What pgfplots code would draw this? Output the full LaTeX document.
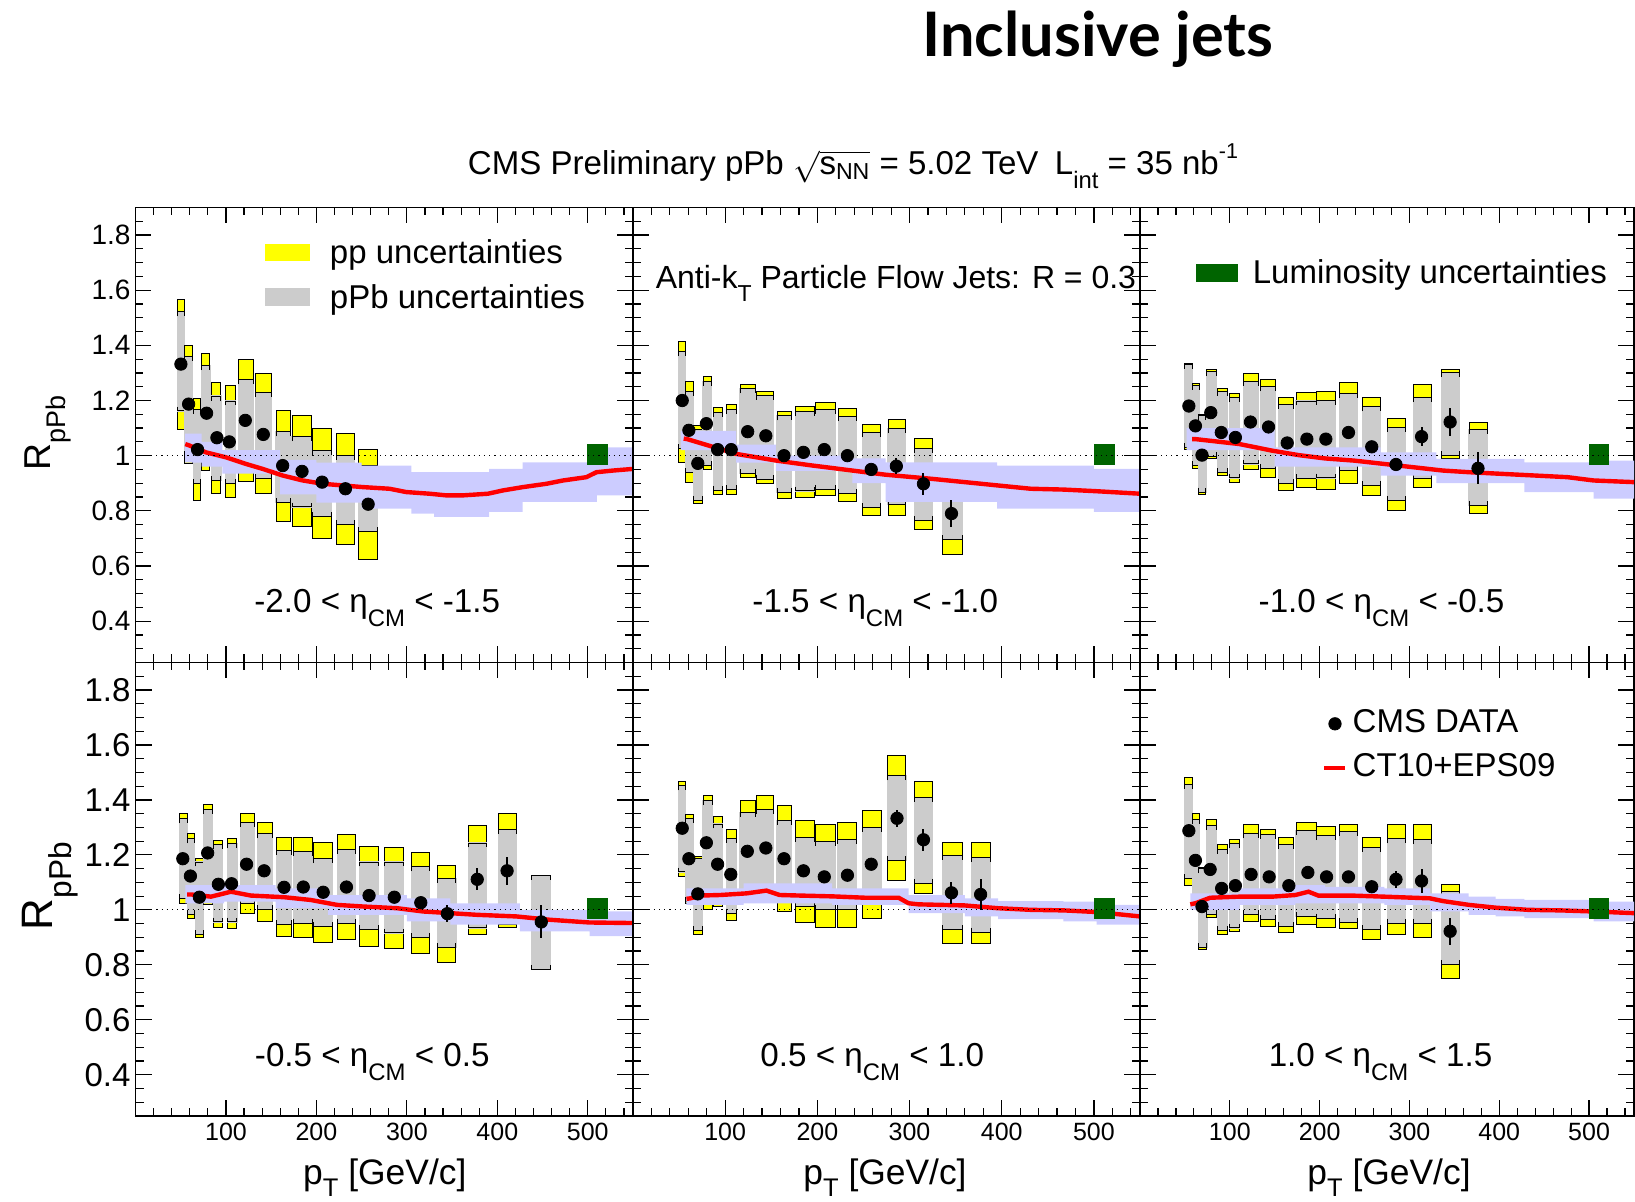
\documentclass[border=0pt]{standalone}
\usepackage{pgfplots}
\pgfplotsset{compat=1.18}
\usepackage{pgfplotstable}
\usepackage{graphicx}
\usepackage{fontspec}
\setmainfont{Liberation Sans}
\newfontfamily\titlefont{Lato}

\definecolor{ppyellow}{RGB}{255,255,0}
\definecolor{pPbgray}{RGB}{204,204,204}
\definecolor{bandblue}{RGB}{204,204,255}
\definecolor{lumigreen}{RGB}{0,100,0}

\newcommand\fs[1]{\fontsize{#1}{#1}\selectfont}
\newcommand\rsub[1]{\raisebox{-0.42em}{\scalebox{0.72}{#1}}}
\newcommand\rsubb[1]{\raisebox{-0.32em}{\scalebox{0.72}{#1}}}
\newcommand\rsup[1]{\raisebox{0.5em}{\scalebox{0.65}{#1}}}

% x y ey xlo xhi glo ghi plo phi
\pgfplotstableread{
x y ey xlo xhi glo ghi plo phi
50.2 1.332 0.01 46.5 54.6 1.162 1.521 1.096 1.566
58.7 1.187 0.01 54.6 63.1 1.000 1.359 0.970 1.401
68.6 1.022 0.01 64.2 72.3 0.898 1.168 0.836 1.207
78.6 1.154 0.01 73.4 82.3 0.982 1.326 0.946 1.369
90.0 1.065 0.01 84.5 94.5 0.910 1.216 0.862 1.266
103.7 1.050 0.01 99.3 110.3 0.898 1.198 0.850 1.254
121.4 1.128 0.01 114.0 130.3 0.940 1.275 0.907 1.347
141.3 1.077 0.01 133.2 149.8 0.916 1.230 0.862 1.297
162.7 0.964 0.01 155.4 171.2 0.830 1.086 0.760 1.165
184.1 0.943 0.01 173.1 194.5 0.814 1.069 0.743 1.144
206.3 0.904 0.01 195.9 216.2 0.778 1.018 0.700 1.098
232.1 0.880 0.01 221.8 242.1 0.749 1.002 0.677 1.080
257.2 0.824 0.015 246.9 267.9 0.725 0.964 0.623 1.024
}\tabA
\pgfplotstableread{
x y ey xlo xhi glo ghi plo phi
53.4 1.200 0.01 49.1 57.0 1.026 1.377 0.976 1.413
60.6 1.092 0.01 57.0 65.2 0.940 1.234 0.904 1.269
70.3 0.972 0.01 66.0 74.9 0.838 1.096 0.826 1.108
79.6 1.116 0.01 76.0 84.9 0.964 1.269 0.950 1.287
91.8 1.022 0.01 87.5 97.5 0.874 1.156 0.859 1.174
106.5 1.022 0.01 101.1 112.5 0.877 1.168 0.859 1.186
124.4 1.087 0.01 116.1 133.3 0.934 1.242 0.919 1.257
144.1 1.072 0.01 134.1 152.0 0.914 1.218 0.898 1.234
163.8 1.000 0.01 156.3 171.7 0.866 1.144 0.844 1.159
184.9 1.012 0.01 176.0 196.8 0.872 1.159 0.848 1.177
207.5 1.022 0.01 197.8 219.4 0.878 1.168 0.856 1.192
232.6 1.000 0.01 222.9 242.3 0.862 1.141 0.835 1.170
258.4 0.950 0.015 249.5 268.5 0.811 1.084 0.784 1.114
285.7 0.962 0.03 276.7 295.3 0.823 1.098 0.784 1.132
315.1 0.898 0.04 305.4 324.7 0.766 1.026 0.734 1.062
345.5 0.790 0.05 335.5 357.0 0.695 0.880 0.643 0.880
}\tabB
\pgfplotstableread{
x y ey xlo xhi glo ghi plo phi
54.4 1.180 0.01 49.6 58.0 1.030 1.332 1.022 1.335
61.7 1.108 0.01 58.0 66.4 0.964 1.255 0.955 1.260
69.0 1.002 0.01 65.3 73.4 0.868 1.144 0.859 1.150
78.8 1.156 0.01 74.5 84.7 0.998 1.305 0.988 1.314
90.5 1.084 0.01 86.1 97.1 0.938 1.234 0.928 1.244
106.2 1.066 0.01 100.0 110.9 0.919 1.210 0.904 1.224
123.0 1.122 0.01 115.7 131.8 0.970 1.269 0.950 1.297
143.1 1.104 0.01 134.7 151.1 0.954 1.249 0.922 1.275
163.9 1.046 0.01 154.0 171.2 0.898 1.186 0.872 1.210
185.8 1.060 0.01 173.7 196.0 0.916 1.198 0.886 1.230
206.9 1.060 0.01 196.7 217.5 0.919 1.200 0.878 1.234
232.1 1.084 0.015 222.3 242.3 0.946 1.225 0.898 1.266
258.0 1.032 0.015 247.8 267.9 0.892 1.177 0.856 1.210
285.0 0.968 0.02 275.2 295.3 0.838 1.102 0.802 1.134
313.5 1.069 0.035 304.4 324.5 0.916 1.210 0.886 1.257
345.3 1.122 0.05 335.4 355.5 1.000 1.302 0.990 1.314
376.3 0.954 0.058 366.4 386.5 0.820 1.096 0.790 1.122
}\tabC
\pgfplotstableread{
x y ey xlo xhi glo ghi plo phi
52.3 1.186 0.01 48.6 57.1 1.040 1.331 1.024 1.352
60.7 1.123 0.01 57.1 65.1 0.982 1.258 0.968 1.276
70.6 1.046 0.01 66.2 75.4 0.910 1.174 0.898 1.186
79.8 1.207 0.01 75.4 85.3 1.030 1.364 1.020 1.385
91.6 1.093 0.01 86.4 96.3 0.956 1.237 0.936 1.252
106.2 1.095 0.01 101.8 112.1 0.956 1.240 0.931 1.261
122.8 1.166 0.01 115.8 131.9 1.024 1.318 0.988 1.352
142.2 1.142 0.01 134.9 151.4 1.000 1.276 0.958 1.318
164.2 1.082 0.01 156.1 172.7 0.946 1.216 0.904 1.262
185.5 1.083 0.01 174.5 195.8 0.952 1.213 0.898 1.264
207.5 1.064 0.01 197.2 217.4 0.940 1.186 0.880 1.246
233.2 1.083 0.01 222.9 243.1 0.952 1.220 0.892 1.274
258.2 1.052 0.015 247.9 268.8 0.928 1.174 0.868 1.232
286.1 1.046 0.02 275.4 296.3 0.916 1.174 0.859 1.227
315.4 1.026 0.02 304.8 325.0 0.898 1.156 0.840 1.210
344.8 0.986 0.03 333.8 354.3 0.864 1.114 0.808 1.162
377.8 1.111 0.04 367.9 388.1 0.934 1.243 0.910 1.306
410.8 1.142 0.05 400.9 421.1 0.948 1.292 0.936 1.351
448.6 0.956 0.06 438.3 458.5 0.784 1.126 0.784 1.126
}\tabD
\pgfplotstableread{
x y ey xlo xhi glo ghi plo phi
53.4 1.297 0.01 49.1 57.0 1.138 1.451 1.120 1.466
60.6 1.186 0.01 57.0 65.2 1.030 1.331 1.024 1.346
70.3 1.058 0.01 66.0 74.9 0.924 1.186 0.912 1.195
79.6 1.244 0.01 76.0 85.7 1.018 1.397 1.000 1.415
91.8 1.166 0.01 87.5 97.5 1.024 1.312 1.012 1.339
106.1 1.129 0.01 101.1 112.5 0.988 1.261 0.960 1.294
124.0 1.213 0.01 116.1 133.3 1.042 1.355 1.028 1.397
144.1 1.225 0.01 134.1 152.7 1.048 1.364 1.032 1.415
163.8 1.186 0.01 156.3 171.7 1.030 1.325 0.994 1.379
184.9 1.142 0.01 176.0 196.8 1.012 1.264 0.954 1.325
207.5 1.120 0.01 197.8 219.4 1.000 1.249 0.936 1.312
232.6 1.126 0.01 221.9 242.3 1.000 1.256 0.936 1.319
258.4 1.166 0.015 249.5 269.2 1.018 1.300 0.970 1.363
286.4 1.333 0.03 276.3 296.1 1.180 1.487 1.105 1.562
315.1 1.255 0.04 305.4 324.7 1.096 1.409 1.060 1.466
345.5 1.062 0.04 335.5 357.0 0.928 1.198 0.876 1.244
377.1 1.056 0.055 367.7 387.8 0.919 1.190 0.876 1.244
}\tabE
\pgfplotstableread{
x y ey xlo xhi glo ghi plo phi
54.4 1.288 0.01 49.6 58.0 1.114 1.457 1.090 1.481
61.7 1.180 0.01 58.0 66.4 1.008 1.328 1.000 1.352
69.0 1.012 0.01 65.3 74.5 0.862 1.150 0.856 1.155
78.1 1.147 0.01 74.5 85.4 0.982 1.306 0.972 1.327
90.9 1.078 0.01 86.1 97.1 0.924 1.220 0.910 1.237
106.2 1.088 0.01 100.0 110.9 0.934 1.240 0.922 1.255
123.7 1.129 0.01 115.3 131.8 0.982 1.276 0.956 1.310
143.8 1.120 0.01 134.7 151.1 0.964 1.274 0.940 1.294
165.7 1.088 0.01 154.0 171.2 0.940 1.237 0.916 1.264
186.9 1.136 0.01 173.7 196.0 0.976 1.288 0.948 1.319
207.7 1.120 0.01 196.7 217.5 0.970 1.270 0.936 1.303
232.1 1.120 0.01 222.3 242.3 0.954 1.285 0.932 1.312
258.0 1.084 0.015 247.8 267.9 0.928 1.228 0.892 1.264
285.0 1.111 0.03 275.2 295.3 0.952 1.258 0.912 1.312
313.5 1.105 0.045 304.4 324.5 0.952 1.255 0.898 1.309
345.3 0.922 0.05 335.4 355.5 0.802 1.066 0.750 1.094
}\tabF

% theory uncertainty bands (value holds from x to next x)
\pgfplotstableread{
x up lo
55 1.080 0.975
73 1.050 0.960
96 1.020 0.935
160 0.985 0.860
200 0.975 0.830
250 0.964 0.808
305 0.940 0.790
330 0.940 0.778
391 0.952 0.796
428 0.976 0.832
510 1.030 0.856
550 1.030 0.856
}\bandA
\pgfplotstableread{
x up lo
52 1.090 1.020
112 1.040 0.975
155 1.000 0.945
238 0.990 0.900
274 0.976 0.832
395 0.964 0.808
500 0.952 0.796
550 0.952 0.796
}\bandB
\pgfplotstableread{
x up lo
52 1.100 1.020
150 1.030 0.960
268 1.012 0.928
330 0.988 0.900
428 0.976 0.868
505 0.982 0.844
550 0.982 0.844
}\bandC
\pgfplotstableread{
x up lo
55 1.090 1.024
98 1.090 1.030
155 1.078 1.006
213 1.054 0.982
300 1.042 0.958
348 1.024 0.946
425 1.000 0.922
502 0.994 0.904
550 0.994 0.904
}\bandD
\pgfplotstableread{
x up lo
58 1.078 1.018
120 1.096 1.024
216 1.078 1.018
299 1.054 0.988
360 1.042 0.976
396 1.032 0.966
467 1.030 0.958
503 1.018 0.946
550 1.018 0.946
}\bandE
\pgfplotstableread{
x up lo
56 1.060 1.000
111 1.078 1.018
173 1.090 1.024
206 1.084 1.024
272 1.078 1.018
323 1.060 0.994
366 1.048 0.982
396 1.040 0.976
428 1.036 0.970
505 1.030 0.958
550 1.030 0.958
}\bandF

\pgfplotsset{
  ppbox/.style={fill=ppyellow, draw=black, line width=0.5pt, mark=none, forget plot},
  pPbbox/.style={fill=pPbgray, draw=pPbgray, line width=0.6pt, mark=none, forget plot},
  bracket/.style={draw=black, line width=0.5pt, mark=none, forget plot},
  panel/.style={
    scale only axis, xmin=0, xmax=550, ymin=0.25, ymax=1.9,
    axis line style={line width=0.7pt},
    tick align=inside, tick pos=both,
    xtick={100,200,300,400,500},
    minor xtick={20,40,60,80,120,140,160,180,220,240,260,280,320,340,360,380,420,440,460,480,520,540},
    ytick={0.4,0.6,0.8,1,1.2,1.4,1.6,1.8},
    minor ytick={0.3,0.35,0.45,0.5,0.55,0.65,0.7,0.75,0.85,0.9,0.95,1.05,1.1,1.15,1.25,1.3,1.35,1.45,1.5,1.55,1.65,1.7,1.75,1.85},
    major tick length=8pt, minor tick length=4pt,
    every tick/.style={black, line width=0.6pt},
    xticklabels={,,,,}, yticklabels={,,,,,,,},
    x tick label style={font=\fs{12.5}},
  },
  labx/.style={xticklabels={100,200,300,400,500}},
  leg/.style={legend style={anchor=west, draw=none, fill=none, font=\fs{16.5},
    inner sep=0pt, outer sep=0pt,
    nodes={inner sep=0pt, text height=11.5pt, text depth=3.5pt}}, legend cell align=left},
}

\newcommand\drawboxes[1]{%
  \pgfplotstablegetrowsof{#1}%
  \pgfmathtruncatemacro\nrows{\pgfplotsretval-1}%
  \pgfplotsforeachungrouped \i in {0,...,\nrows}{%
    \pgfplotstablegetelem{\i}{xlo}\of{#1}\let\BXa\pgfplotsretval
    \pgfplotstablegetelem{\i}{xhi}\of{#1}\let\BXb\pgfplotsretval
    \pgfplotstablegetelem{\i}{glo}\of{#1}\let\BGa\pgfplotsretval
    \pgfplotstablegetelem{\i}{ghi}\of{#1}\let\BGb\pgfplotsretval
    \pgfplotstablegetelem{\i}{plo}\of{#1}\let\BPa\pgfplotsretval
    \pgfplotstablegetelem{\i}{phi}\of{#1}\let\BPb\pgfplotsretval
    \pgfmathsetmacro\BGat{\BGa+0.016}%
    \pgfmathsetmacro\BGbt{\BGb-0.016}%
    \edef\tmp{%
      \noexpand\addplot[ppbox] coordinates {(\BXa,\BPa) (\BXb,\BPa) (\BXb,\BPb) (\BXa,\BPb)} -- cycle;
      \noexpand\addplot[pPbbox] coordinates {(\BXa,\BGa) (\BXb,\BGa) (\BXb,\BGb) (\BXa,\BGb)} -- cycle;
      \noexpand\addplot[bracket] coordinates {(\BXa,\BGbt) (\BXa,\BGb) (\BXb,\BGb) (\BXb,\BGbt)};
      \noexpand\addplot[bracket] coordinates {(\BXa,\BGat) (\BXa,\BGa) (\BXb,\BGa) (\BXb,\BGat)};
    }\tmp
  }%
}
\newcommand\drawband[1]{%
  \pgfplotstablegetrowsof{#1}%
  \pgfmathtruncatemacro\nb{\pgfplotsretval-2}%
  \def\upl{}\def\lol{}%
  \pgfplotsforeachungrouped \i in {0,...,\nb}{%
    \pgfmathtruncatemacro\jj{\i+1}%
    \pgfplotstablegetelem{\i}{x}\of{#1}\let\BXa\pgfplotsretval
    \pgfplotstablegetelem{\jj}{x}\of{#1}\let\BXb\pgfplotsretval
    \pgfplotstablegetelem{\i}{up}\of{#1}\let\BUp\pgfplotsretval
    \pgfplotstablegetelem{\i}{lo}\of{#1}\let\BLo\pgfplotsretval
    \edef\upl{\upl (\BXa,\BUp) (\BXb,\BUp)}%
    \edef\lol{(\BXb,\BLo) (\BXa,\BLo) \lol}%
  }%
  \edef\tmp{\noexpand\addplot[fill=bandblue, draw=none, mark=none, forget plot] coordinates {\upl\space\lol} -- cycle;}\tmp
}
\newcommand\drawrest[1]{%
  \addplot[fill=lumigreen, draw=lumigreen, mark=none, forget plot] coordinates {(500,0.97) (522,0.97) (522,1.04) (500,1.04)} -- cycle;
  \addplot[black, dotted, line width=0.6pt, mark=none, forget plot] coordinates {(0,1) (550,1)};
  \addplot[black, only marks, mark=*, mark size=3.1pt, forget plot,
    error bars/.cd, y dir=both, y explicit, error mark=none,
    error bar style={line width=1pt, black}] table[x=x,y=y,y error=ey]{#1};
}

\begin{document}
\begin{tikzpicture}
\useasboundingbox (0,0) rectangle (817.5pt,601pt);

% ---------- panel 1 ----------
\begin{axis}[panel, leg, at={(67.75pt,269.75pt)}, anchor=south west, width=248.75pt, height=227.5pt,
  yticklabels={0.4,0.6,0.8,1,1.2,1.4,1.6,1.8}, y tick label style={font=\fs{14}, xshift=1pt},
  legend style={at={(0.2603,0.845)}, row sep=7.4pt,
    /tikz/every odd column/.append style={column sep=10pt}},
  legend image code/.code={\fill[#1] (0pt,-2.9pt) rectangle (22.5pt,6pt);},
]
\drawboxes{\tabA}
\drawband{\bandA}
\addplot[red, line width=2.2pt, mark=none, forget plot] coordinates {(55,1.042) (58.7,1.038) (77.9,1.012) (100,0.994) (122.1,0.970) (140.6,0.952) (162.7,0.928) (184.9,0.910) (207,0.898) (229.2,0.892) (251.3,0.886) (280.8,0.880) (299.3,0.868) (325.1,0.862) (343.5,0.856) (362,0.856) (389.7,0.862) (406.3,0.874) (428.4,0.886) (454.2,0.898) (472.7,0.910) (498.5,0.922) (509.6,0.940) (528,0.946) (550,0.952)};
\drawrest{\tabA}
\addlegendimage{fill=ppyellow, draw=none}
\addlegendentry{pp uncertainties}
\addlegendimage{fill=pPbgray, draw=none}
\addlegendentry{pPb uncertainties}
\node[font=\fs{16.6}, anchor=base] at (rel axis cs:0.486,0.109) {-2.0 < η\rsub{CM} < -1.5};
\end{axis}

% ---------- panel 2 ----------
\begin{axis}[panel, at={(316.5pt,269.75pt)}, anchor=south west, width=253.5pt, height=227.5pt]
\drawboxes{\tabB}
\drawband{\bandB}
\addplot[red, line width=2.2pt, mark=none, forget plot] coordinates {(55,1.062) (58.8,1.060) (112.5,1.006) (155.6,0.982) (195,0.964) (238,0.946) (273.8,0.931) (324,0.916) (359.9,0.904) (395.7,0.892) (431.5,0.880) (467.4,0.877) (503.2,0.871) (550,0.862)};
\drawrest{\tabB}
\node[font=\fs{16}, anchor=base west] at (rel axis cs:0.031,0.823) {Anti-k\rsub{T} Particle Flow Jets: R = 0.3};
\node[font=\fs{16.6}, anchor=base] at (rel axis cs:0.478,0.109) {-1.5 < η\rsub{CM} < -1.0};
\end{axis}

% ---------- panel 3 ----------
\begin{axis}[panel, leg, at={(570pt,269.75pt)}, anchor=south west, width=247pt, height=227.5pt,
  legend style={at={(0.113,0.850)},
    /tikz/every odd column/.append style={column sep=7.5pt}},
  legend image code/.code={\fill[#1] (0pt,-2.9pt) rectangle (21pt,6pt);},
]
\drawboxes{\tabC}
\drawband{\bandC}
\addplot[red, line width=2.2pt, mark=none, forget plot] coordinates {(58,1.060) (61.7,1.060) (78.1,1.054) (110.9,1.042) (147.4,1.018) (176.6,1.002) (205.8,0.990) (238.7,0.982) (271.5,0.970) (304.4,0.958) (337.2,0.946) (366.4,0.940) (402.9,0.934) (439.4,0.928) (475.9,0.922) (505.1,0.910) (550,0.904)};
\drawrest{\tabC}
\addlegendimage{fill=lumigreen, draw=none}
\addlegendentry{Luminosity uncertainties}
\node[font=\fs{16.6}, anchor=base] at (rel axis cs:0.489,0.109) {-1.0 < η\rsub{CM} < -0.5};
\end{axis}

% ---------- panel 4 ----------
\begin{axis}[panel, labx, at={(67.75pt,43pt)}, anchor=south west, width=248.75pt, height=226.75pt,
  yticklabels={0.4,0.6,0.8,1,1.2,1.4,1.6,1.8}, y tick label style={font=\fs{16.5}, xshift=1pt}]
\drawboxes{\tabD}
\drawband{\bandD}
\addplot[red, line width=2.2pt, mark=none, forget plot] coordinates {(57,1.056) (61.5,1.056) (83.5,1.048) (105.5,1.066) (127.5,1.052) (164.2,1.046) (193.6,1.036) (222.9,1.018) (252.3,1.012) (289,1.006) (318.3,0.994) (347.7,0.988) (377.1,0.982) (421.1,0.976) (457.8,0.964) (501.8,0.954) (550,0.952)};
\drawrest{\tabD}
\node[font=\fs{16.6}, anchor=base] at (rel axis cs:0.476,0.11) {-0.5 < η\rsub{CM} < 0.5};
\end{axis}

% ---------- panel 5 ----------
\begin{axis}[panel, labx, at={(316.5pt,43pt)}, anchor=south west, width=253.5pt, height=226.75pt]
\drawboxes{\tabE}
\drawband{\bandE}
\addplot[red, line width=2.2pt, mark=none, forget plot] coordinates {(58,1.040) (62.4,1.042) (73.1,1.052) (94.6,1.054) (123.3,1.060) (144.8,1.070) (159.1,1.054) (180.6,1.052) (216.5,1.049) (252.3,1.044) (288.2,1.044) (298.9,1.024) (309.7,1.020) (359.9,1.016) (395.7,1.006) (431.5,1.0) (467.4,0.998) (503.2,0.992) (550,0.976)};
\drawrest{\tabE}
\node[font=\fs{16.6}, anchor=base] at (rel axis cs:0.472,0.11) {0.5 < η\rsub{CM} < 1.0};
\end{axis}

% ---------- panel 6 ----------
\begin{axis}[panel, labx, leg, at={(570pt,43pt)}, anchor=south west, width=247pt, height=226.75pt,
  legend style={at={(0.369,0.814)}, row sep=7pt,
    /tikz/every odd column/.append style={column sep=2.5pt}},
  legend image code/.code={\draw[mark repeat=2,mark phase=2,#1] plot coordinates {(0pt,0.5pt) (5.25pt,0.5pt) (10.5pt,0.5pt)};},
]
\drawboxes{\tabF}
\drawband{\bandF}
\addplot[red, line width=2.2pt, mark=none, forget plot] coordinates {(56,1.020) (61.7,1.024) (78.1,1.044) (110.9,1.048) (147.4,1.048) (173,1.054) (187.6,1.066) (198.5,1.052) (235,1.052) (271.5,1.048) (304.4,1.044) (322.6,1.042) (337.2,1.032) (366.4,1.018) (395.6,1.008) (432.1,1.0) (468.6,0.998) (505.1,0.994) (550,0.988)};
\drawrest{\tabF}
\addlegendimage{black, only marks, mark=*, mark size=3.1pt}
\addlegendentry{CMS DATA}
\addlegendimage{red, line width=2.2pt}
\addlegendentry{CT10+EPS09}
\node[font=\fs{16.6}, anchor=base] at (rel axis cs:0.487,0.11) {1.0 < η\rsub{CM} < 1.5};
\end{axis}

% ---------- titles and axis labels ----------
\node[anchor=base] at (549pt,572.5pt) {\resizebox{175.5pt}{!}{\titlefont\bfseries Inclusive jets}};
\node[anchor=base] at (426.5pt,513.5pt) {\resizebox{385pt}{!}{\fs{18}CMS Preliminary pPb $\sqrt{\mathrm{s}_{\mathrm{NN}}}$ = 5.02 TeV\enspace L\rsub{int} = 35 nb\rsup{-1}}};
\node[rotate=90, font=\fs{18.7}] at (24pt,384.5pt) {R\rsub{pPb}};
\node[rotate=90, font=\fs{22}] at (25pt,158pt) {R\rsub{pPb}};
\node[anchor=base, font=\fs{17.7}] at (192.4pt,8.5pt) {p\rsubb{T} [GeV/c]};
\node[anchor=base, font=\fs{17.7}] at (442.5pt,8.5pt) {p\rsubb{T} [GeV/c]};
\node[anchor=base, font=\fs{17.7}] at (694.5pt,8.5pt) {p\rsubb{T} [GeV/c]};
\end{tikzpicture}
\end{document}
